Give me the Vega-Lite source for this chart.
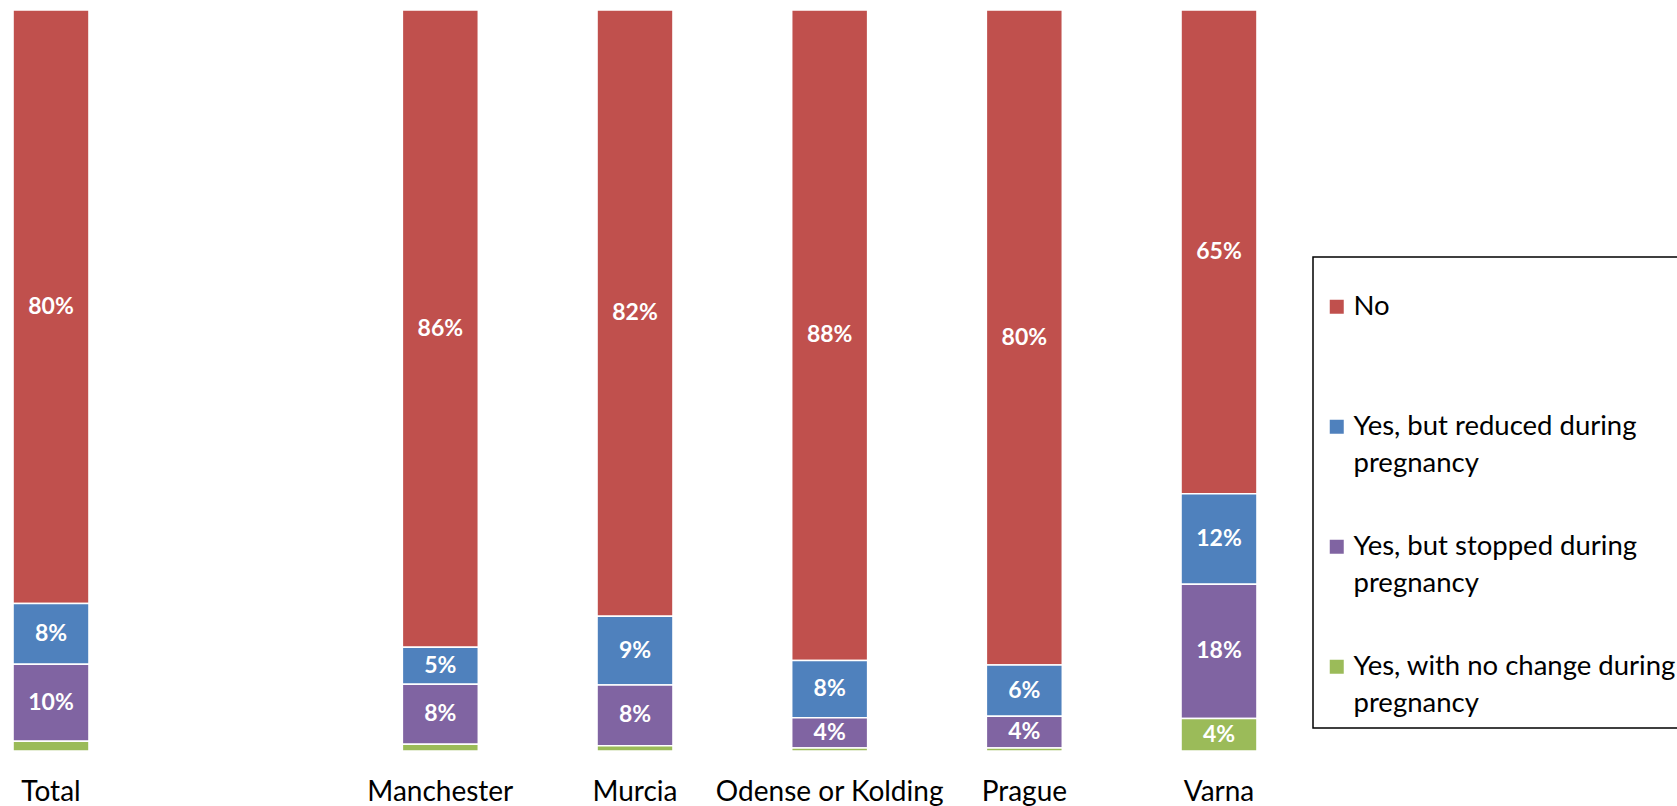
{
  "$schema": "https://vega.github.io/schema/vega-lite/v6.json",
  "width": 1270,
  "height": 741,
  "autosize": {"type": "none"},
  "padding": {"left": 0, "top": 10, "right": 407, "bottom": 55},
  "background": "white",
  "config": {"view": {"stroke": null}, "font": "Lato", "legend": {"strokeWidth": 1.5}, "style": {"guide-label": {"lineHeight": 37}}},
  "data": {"values": [
    {"site": "Total", "response": "No", "value": 80.1, "label": "80%"},
    {"site": "Total", "response": "Yes, but reduced during pregnancy", "value": 8.2, "label": "8%"},
    {"site": "Total", "response": "Yes, but stopped during pregnancy", "value": 10.4, "label": "10%"},
    {"site": "Total", "response": "Yes, with no change during pregnancy", "value": 1.3, "label": ""},
    {"site": "Manchester", "response": "No", "value": 86.0, "label": "86%"},
    {"site": "Manchester", "response": "Yes, but reduced during pregnancy", "value": 5.0, "label": "5%"},
    {"site": "Manchester", "response": "Yes, but stopped during pregnancy", "value": 8.1, "label": "8%"},
    {"site": "Manchester", "response": "Yes, with no change during pregnancy", "value": 0.9, "label": ""},
    {"site": "Murcia", "response": "No", "value": 81.8, "label": "82%"},
    {"site": "Murcia", "response": "Yes, but reduced during pregnancy", "value": 9.3, "label": "9%"},
    {"site": "Murcia", "response": "Yes, but stopped during pregnancy", "value": 8.2, "label": "8%"},
    {"site": "Murcia", "response": "Yes, with no change during pregnancy", "value": 0.7, "label": ""},
    {"site": "Odense or Kolding", "response": "No", "value": 87.8, "label": "88%"},
    {"site": "Odense or Kolding", "response": "Yes, but reduced during pregnancy", "value": 7.7, "label": "8%"},
    {"site": "Odense or Kolding", "response": "Yes, but stopped during pregnancy", "value": 4.1, "label": "4%"},
    {"site": "Odense or Kolding", "response": "Yes, with no change during pregnancy", "value": 0.4, "label": ""},
    {"site": "Prague", "response": "No", "value": 88.4, "label": "80%"},
    {"site": "Prague", "response": "Yes, but reduced during pregnancy", "value": 6.9, "label": "6%"},
    {"site": "Prague", "response": "Yes, but stopped during pregnancy", "value": 4.3, "label": "4%"},
    {"site": "Prague", "response": "Yes, with no change during pregnancy", "value": 0.4, "label": ""},
    {"site": "Varna", "response": "No", "value": 65.3, "label": "65%"},
    {"site": "Varna", "response": "Yes, but reduced during pregnancy", "value": 12.2, "label": "12%"},
    {"site": "Varna", "response": "Yes, but stopped during pregnancy", "value": 18.1, "label": "18%"},
    {"site": "Varna", "response": "Yes, with no change during pregnancy", "value": 4.4, "label": "4%"}
  ]},
  "encoding": {
    "x": {
      "field": "site", "type": "nominal", "sort": null,
      "scale": {"domain": ["Total", "", "Manchester", "Murcia", "Odense or Kolding", "Prague", "Varna"], "paddingInner": 0.61, "paddingOuter": 0.067},
      "axis": {"title": null, "labelAngle": 0, "domain": false, "ticks": false, "labelFont": "Lato", "labelFontSize": 28, "labelColor": "black", "labelPadding": 27, "labelBaseline": "top", "labelLimit": 400}
    },
    "y": {"field": "value", "type": "quantitative", "stack": "zero", "scale": {"domain": [0, 100], "nice": false}, "axis": null},
    "order": {"field": "response", "sort": "descending"}
  },
  "layer": [
    {
      "mark": {"type": "bar", "stroke": "white", "strokeWidth": 1.5},
      "encoding": {
        "color": {
          "field": "response", "type": "nominal",
          "scale": {"domain": ["No", "Yes, but reduced during pregnancy", "Yes, but stopped during pregnancy", "Yes, with no change during pregnancy"], "range": ["#C0504D", "#4F81BD", "#8064A2", "#9BBB59"]},
          "legend": {
            "title": " ", "titleFontSize": 10, "titlePadding": 16,
            "orient": "none", "legendX": 1313, "legendY": 247,
            "padding": 10, "strokeColor": "black", "fillColor": "white",
            "symbolType": "square", "symbolSize": 196, "symbolStrokeWidth": 0,
            "labelFont": "Lato", "labelFontSize": 27.5, "labelColor": "black",
            "labelOffset": 3, "labelLimit": 500, "rowPadding": 54,
            "labelExpr": "datum.label == 'No' ? ['No', ''] : [replace(datum.label, ' pregnancy', ''), 'pregnancy']"
          }
        }
      }
    },
    {
      "mark": {"type": "text", "color": "white", "font": "Lato", "fontWeight": "bold", "fontSize": 23, "baseline": "middle"},
      "encoding": {
        "y": {"field": "value", "type": "quantitative", "stack": "zero", "bandPosition": 0.5},
        "detail": {"field": "response"},
        "text": {"field": "label"}
      }
    }
  ]
}
